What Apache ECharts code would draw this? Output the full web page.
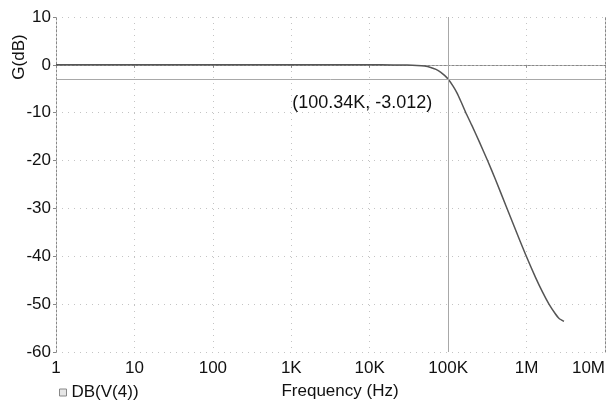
<!DOCTYPE html>
<html>
<head>
<meta charset="utf-8">
<script src="https://cdn.jsdelivr.net/npm/echarts@6/dist/echarts.min.js"></script>
<style>
  html, body { margin: 0; padding: 0; background: #fff; }
  #chart { width: 608px; height: 400px; }
</style>
</head>
<body>
<div id="chart"></div>
<script>
// 频率 (Hz) 与增益 (dB)
const freqHz = [1, 10, 100, 1000, 10000, 20000, 30000, 40000, 50000, 60000, 70000, 80000, 90000,
  100340, 115000, 130000, 145000, 168000, 200000, 250000, 320000, 400000, 547000, 700000, 980000,
  1300000, 1600000, 1930000, 2300000, 2600000, 3000000];
const gainDb = [0, 0, 0, 0, 0, -0.01, -0.04, -0.12, -0.26, -0.55, -0.95, -1.5, -2.2,
  -3.012, -4.4, -5.9, -7.6, -10, -12.6, -16.1, -20.1, -23.9, -29.5, -33.9, -39.8,
  -44.4, -47.5, -50, -51.9, -53.0, -53.6];
// 光标
const cursorX = 100340;
const cursorY = -3.012;
const cursorText = "(100.34K, -3.012)";
// 刻度标签
const xTickLabels = { 1: "1", 10: "10", 100: "100", 1000: "1K", 10000: "10K", 100000: "100K", 1000000: "1M", 10000000: "10M" };
const yTicks = [10, 0, -10, -20, -30, -40, -50, -60];

const chart = echarts.init(document.getElementById("chart"));
const font = "Liberation Sans, Arial, sans-serif";
const borderStyle = { color: "#888", width: 1, type: [2, 2] };
const gridLineStyle = { color: "#c4c4c4", width: 1, type: [1, 5] };

const option = {
  animation: false,
  textStyle: { fontFamily: font },
  grid: { left: 56, right: 2, top: 17, bottom: 48, containLabel: false },
  legend: {
    left: 54, top: 379,
    icon: "rect", itemWidth: 7, itemHeight: 7, itemGap: 4,
    textStyle: { fontSize: 17, color: "#111", fontFamily: font },
    data: [{ name: "DB(V(4))", itemStyle: { color: "#e6e6e6", borderColor: "#888", borderWidth: 1 } }],
  },
  xAxis: [
    {
      type: "log", logBase: 10, min: 1, max: 10000000,
      axisLine: { show: true, lineStyle: borderStyle },
      axisTick: { show: true, length: 3, lineStyle: { color: "#888" } },
      axisLabel: {
        fontSize: 17, color: "#111", margin: 8, alignMaxLabel: "right",
        formatter: (v) => xTickLabels[Math.round(v)] || "",
      },
      splitLine: { show: true, lineStyle: gridLineStyle },
    },
    {
      type: "log", logBase: 10, min: 1, max: 10000000, position: "top",
      axisLine: { show: true, lineStyle: borderStyle },
      axisTick: { show: false }, axisLabel: { show: false }, splitLine: { show: false },
    },
  ],
  yAxis: [
    {
      type: "value", min: -60, max: 10, interval: 10,
      axisLine: { show: true, lineStyle: borderStyle },
      axisTick: { show: true, length: 3, lineStyle: { color: "#888" } },
      axisLabel: { fontSize: 17, color: "#111", margin: 5, formatter: (v) => (yTicks.includes(v) ? String(v) : "") },
      splitLine: { show: true, lineStyle: gridLineStyle },
    },
    {
      type: "value", min: -60, max: 10, interval: 10, position: "right",
      axisLine: { show: true, lineStyle: borderStyle },
      axisTick: { show: false }, axisLabel: { show: false }, splitLine: { show: false },
    },
  ],
  graphic: [
    {
      type: "text", x: 19, y: 57, rotation: Math.PI / 2,
      style: { text: "G(dB)", fontSize: 17, fontFamily: font, fill: "#111", align: "center", verticalAlign: "middle" },
    },
    {
      type: "text", x: 340, y: 391,
      style: { text: "Frequency (Hz)", fontSize: 17, fontFamily: font, fill: "#111", align: "center", verticalAlign: "middle" },
    },
  ],
  series: [
    {
      name: "DB(V(4))",
      type: "line",
      data: freqHz.map((f, i) => [f, gainDb[i]]),
      showSymbol: false,
      smooth: 0.2,
      lineStyle: { color: "#555", width: 1.5 },
      itemStyle: { color: "#e6e6e6" },
      markLine: {
        silent: true, symbol: "none", label: { show: false },
        lineStyle: { color: "#a8a8a8", width: 1, type: "solid" },
        data: [{ xAxis: cursorX }, { yAxis: cursorY }],
      },
      markPoint: {
        silent: true, symbol: "circle", symbolSize: 0,
        data: [{ coord: [cursorX, cursorY] }],
        label: {
          show: true, formatter: cursorText, offset: [-86, 24],
          fontSize: 18, color: "#111", fontFamily: font,
        },
      },
    },
  ],
};
chart.setOption(option);
</script>
</body>
</html>
